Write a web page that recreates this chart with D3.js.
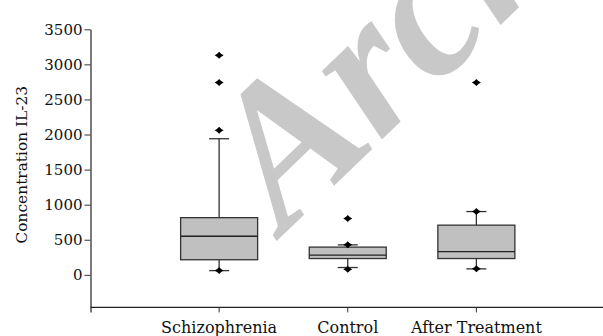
<!DOCTYPE html>
<html>
<head>
<meta charset="utf-8">
<script src="https://d3js.org/d3.v7.min.js"></script>
<style>
  body { margin: 0; background: #fff; }
  text { font-family: "DejaVu Serif", serif; }
</style>
</head>
<body>
<div id="chart"></div>
<script>
// data
const groups = ['Schizophrenia', 'Control', 'After Treatment'];
const q1 = [215, 232, 232];
const medians = [550, 280, 332];
const q3 = [815, 395, 708];
const whiskerLow = [60, 104, 85];
const whiskerHigh = [1940, 427, 902];
const points = [
    [60, 2060, 2740, 3130],
    [81, 427, 802],
    [85, 902, 2740]
];
const yTicks = [0, 500, 1000, 1500, 2000, 2500, 3000, 3500];

const width = 603, height = 336;

const svg = d3.select('#chart').append('svg')
    .attr('width', width)
    .attr('height', height);

const x = d3.scalePoint()
    .domain(groups)
    .range([90.5, 605])
    .padding(1);

const y = d3.scaleLinear()
    .domain([-530, 3500])
    .range([312, 29.3]);

const xAxisY = y(-465);

// watermark
svg.append('text')
    .attr('transform', 'translate(284,234) rotate(-44)')
    .attr('fill', '#c8c8c8')
    .style('font-family', '"Liberation Serif", serif')
    .style('font-style', 'italic')
    .style('font-weight', 'bold')
    .style('font-size', '198px')
    .text('Archive of SID');

// y axis
const yAxis = svg.append('g')
    .attr('transform', 'translate(90.5,0)')
    .call(d3.axisLeft(y).tickValues(yTicks).tickFormat(d3.format('d'))
        .tickSize(6).tickSizeOuter(0).tickPadding(2));
yAxis.select('.domain').attr('stroke', '#333').attr('stroke-width', 1.3);
yAxis.selectAll('.tick line').attr('stroke', '#333');
yAxis.selectAll('.tick text')
    .attr('fill', '#111')
    .style('font-size', '15px');

svg.append('text')
    .attr('transform', `translate(27,${y(1570)}) rotate(-90)`)
    .attr('text-anchor', 'middle')
    .attr('fill', '#111')
    .style('font-size', '15.4px')
    .text('Concentration IL-23');

// x axis
svg.append('line')
    .attr('x1', 90.5).attr('x2', width)
    .attr('y1', xAxisY).attr('y2', xAxisY)
    .attr('stroke', '#222').attr('stroke-width', 1.3);

const xTicks = svg.selectAll('.xtick').data(groups).enter().append('g')
    .attr('transform', d => `translate(${x(d)},${xAxisY})`);
xTicks.append('line').attr('y2', 5).attr('stroke', '#333');
xTicks.append('text')
    .attr('y', 25.5)
    .attr('text-anchor', 'middle')
    .attr('fill', '#111')
    .style('font-size', '16px')
    .text(d => d);

// boxes
const boxW = 77, capW = 20;
const g = svg.selectAll('.box').data(groups).enter().append('g')
    .attr('class', 'box');

g.append('line')
    .attr('x1', d => x(d)).attr('x2', d => x(d))
    .attr('y1', (d, i) => y(whiskerHigh[i])).attr('y2', (d, i) => y(whiskerLow[i]))
    .attr('stroke', '#333').attr('stroke-width', 1.3);

g.append('line')
    .attr('x1', d => x(d) - capW / 2).attr('x2', d => x(d) + capW / 2)
    .attr('y1', (d, i) => y(whiskerHigh[i])).attr('y2', (d, i) => y(whiskerHigh[i]))
    .attr('stroke', '#333').attr('stroke-width', 1.3);

g.append('line')
    .attr('x1', d => x(d) - capW / 2).attr('x2', d => x(d) + capW / 2)
    .attr('y1', (d, i) => y(whiskerLow[i])).attr('y2', (d, i) => y(whiskerLow[i]))
    .attr('stroke', '#333').attr('stroke-width', 1.3);

g.append('rect')
    .attr('x', d => x(d) - boxW / 2)
    .attr('width', boxW)
    .attr('y', (d, i) => y(q3[i]))
    .attr('height', (d, i) => y(q1[i]) - y(q3[i]))
    .attr('fill', '#c0c0c0')
    .attr('stroke', '#333')
    .attr('stroke-width', 1.3);

g.append('line')
    .attr('x1', d => x(d) - boxW / 2).attr('x2', d => x(d) + boxW / 2)
    .attr('y1', (d, i) => y(medians[i])).attr('y2', (d, i) => y(medians[i]))
    .attr('stroke', '#222').attr('stroke-width', 1.3);

// outlier / extreme dots
const dot = 'M-4.5,0 Q-2,-1 0,-3.5 Q2,-1 4.5,0 Q2,1 0,3.5 Q-2,1 -4.5,0 Z';
g.each(function (d, i) {
    d3.select(this).selectAll('.pt').data(points[i]).enter().append('path')
        .attr('d', dot)
        .attr('transform', v => `translate(${x(d)},${y(v)})`)
        .attr('fill', '#000');
});
</script>
</body>
</html>
